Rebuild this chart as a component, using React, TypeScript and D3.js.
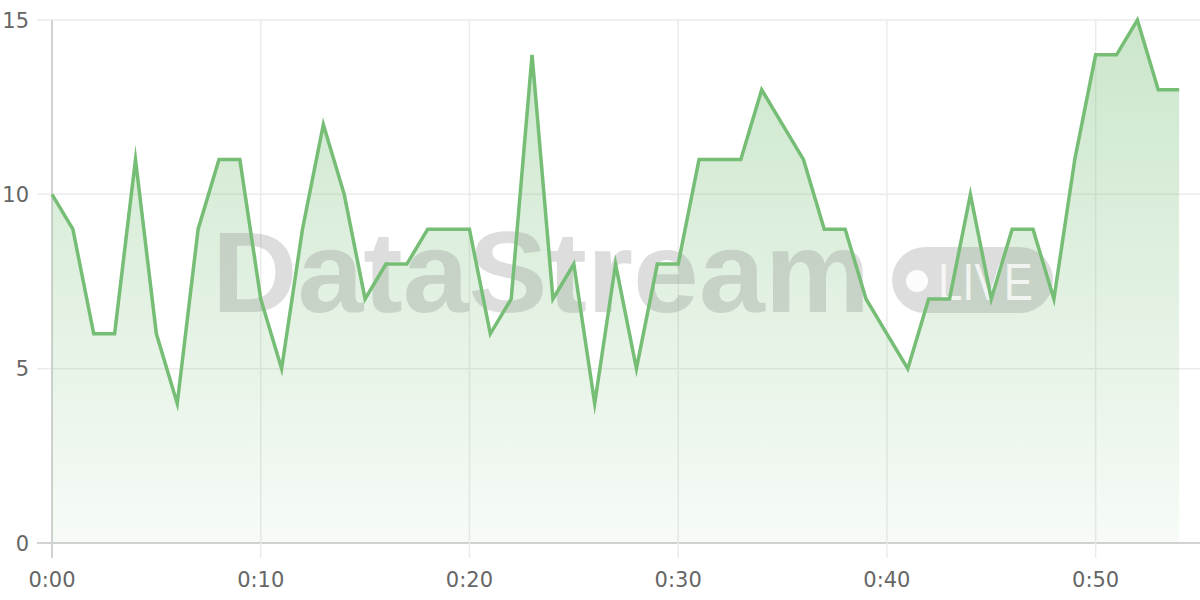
import React from "react";
import * as d3 from "d3";

const minutes: number[] = d3.range(0, 55);
const values: number[] = [
  10, 9, 6, 6, 11, 6, 4, 9, 11, 11,
  7, 5, 9, 12, 10, 7, 8, 8, 9, 9,
  9, 6, 7, 14, 7, 8, 4, 8, 5, 8,
  8, 11, 11, 11, 13, 12, 11, 9, 9, 7,
  6, 5, 7, 7, 10, 7, 9, 9, 7, 11,
  14, 14, 15, 13, 13,
];
const yTicks: number[] = [0, 5, 10, 15];
const xTicks: number[] = [0, 10, 20, 30, 40, 50];
const xTickLabels: string[] = ["0:00", "0:10", "0:20", "0:30", "0:40", "0:50"];
const watermarkText = "DataStream";
const badgeText = "LIVE";

const W = 1200;
const H = 600;
const left = 52;
const right = 1200;
const top = 20;
const bottom = 543;

export default function App() {
  const x = d3.scaleLinear().domain([0, 55]).range([left, right]);
  const y = d3.scaleLinear().domain([0, 15]).range([bottom, top]);
  const data = minutes.map((m, i) => ({ m, v: values[i] }));

  const line = d3
    .line<{ m: number; v: number }>()
    .x((d) => x(d.m))
    .y((d) => y(d.v));
  const area = d3
    .area<{ m: number; v: number }>()
    .x((d) => x(d.m))
    .y0(y(0))
    .y1((d) => y(d.v));

  const font = "'DejaVu Sans', sans-serif";

  return (
    <svg
      width={W}
      height={H}
      style={{ position: "absolute", left: 0, top: 0, background: "#fff" }}
    >
      <defs>
        <linearGradient
          id="fillGrad"
          gradientUnits="userSpaceOnUse"
          x1={0}
          y1={top}
          x2={0}
          y2={bottom}
        >
          <stop offset="0%" stopColor="rgb(118,189,118)" stopOpacity={0.38} />
          <stop offset="100%" stopColor="rgb(118,189,118)" stopOpacity={0.06} />
        </linearGradient>
      </defs>

      {/* horizontal grid */}
      {yTicks.map((t) => (
        <line
          key={"h" + t}
          x1={37}
          x2={right}
          y1={y(t)}
          y2={y(t)}
          stroke={t === 0 ? "#d2d2d2" : "#ebebeb"}
          strokeWidth={t === 0 ? 2 : 1.5}
        />
      ))}
      {/* vertical grid */}
      {xTicks.map((t) => (
        <line
          key={"v" + t}
          x1={x(t)}
          x2={x(t)}
          y1={top}
          y2={558}
          stroke={t === 0 ? "#d2d2d2" : "#ebebeb"}
          strokeWidth={t === 0 ? 2 : 1.5}
        />
      ))}

      {/* area fill */}
      <path d={area(data) || ""} fill="url(#fillGrad)" />

      {/* watermark */}
      <g opacity={1}>
        <text
          x={212}
          y={312}
          fontFamily="'Liberation Sans', Arial, sans-serif"
          fontWeight="bold"
          fontSize={115}
          textLength={658}
          lengthAdjust="spacingAndGlyphs"
          fill="#808080"
          fillOpacity={0.27}
        >
          {watermarkText}
        </text>
        <rect
          x={892}
          y={247}
          width={161}
          height={66}
          rx={33}
          fill="#808080"
          fillOpacity={0.27}
        />
        <circle cx={917} cy={281} r={11} fill="#ffffff" fillOpacity={0.9} />
        <text
          x={938}
          y={300}
          fontFamily="'Liberation Sans', Arial, sans-serif"
          fontSize={52}
          textLength={95}
          lengthAdjust="spacingAndGlyphs"
          fill="#ffffff"
          fillOpacity={0.75}
        >
          {badgeText}
        </text>
      </g>

      {/* line */}
      <path
        d={line(data) || ""}
        fill="none"
        stroke="#76bd76"
        strokeWidth={3.5}
        strokeLinejoin="miter"
        strokeMiterlimit={10}
      />

      {/* y labels */}
      {yTicks.map((t) => (
        <text
          key={"yl" + t}
          x={29}
          y={y(t)}
          dy="0.36em"
          textAnchor="end"
          fontFamily={font}
          fontSize={21}
          fill="#666"
        >
          {t}
        </text>
      ))}
      {/* x labels */}
      {xTicks.map((t, i) => (
        <text
          key={"xl" + t}
          x={x(t)}
          y={587}
          textAnchor="middle"
          fontFamily={font}
          fontSize={21}
          fill="#666"
        >
          {xTickLabels[i]}
        </text>
      ))}
    </svg>
  );
}
